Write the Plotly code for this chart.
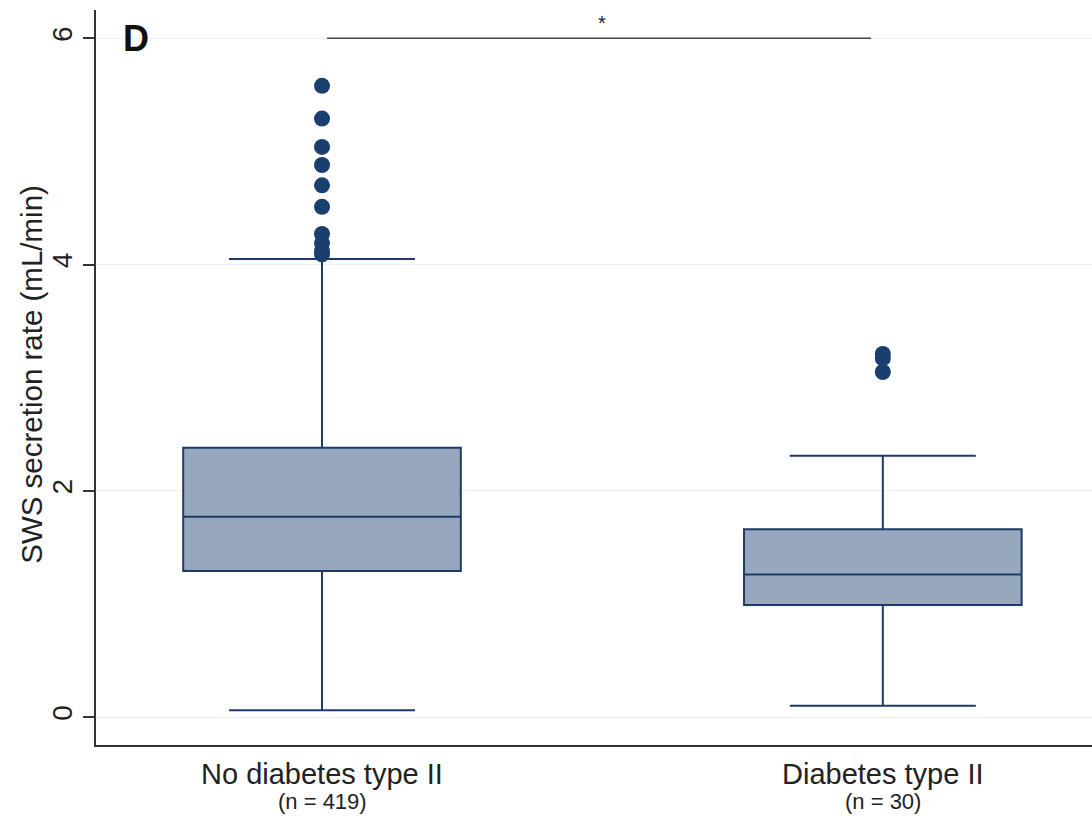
import plotly.graph_objects as go

# Group summaries (mL/min)
groups = ["No diabetes type II", "Diabetes type II"]
group_n = [419, 30]
q1 = [1.29, 0.99]
median = [1.77, 1.26]
q3 = [2.38, 1.66]
lower_whisker = [0.06, 0.10]
upper_whisker = [4.05, 2.31]
outliers = [
    [5.58, 5.29, 5.04, 4.88, 4.70, 4.51, 4.27, 4.19, 4.12, 4.09],
    [3.21, 3.17, 3.05],
]
y_ticks = [0, 2, 4, 6]
sig_y = 6.0
sig_label = "*"

FILL = "#97a8be"
LINE = "#1f3a66"
DOT = "#1a3e6e"
FONT = "Liberation Sans, Arial, sans-serif"

positions = list(range(len(groups)))

fig = go.Figure()
fig.add_trace(go.Box(
    x=positions,
    q1=q1, median=median, q3=q3,
    lowerfence=lower_whisker, upperfence=upper_whisker,
    fillcolor=FILL,
    line=dict(color=LINE, width=2),
    width=0.495,
    whiskerwidth=0.67,
    boxpoints=False,
    showlegend=False,
    hoverinfo="skip",
))

for pos, pts in zip(positions, outliers):
    fig.add_trace(go.Scatter(
        x=[pos] * len(pts), y=pts, mode="markers",
        marker=dict(color=DOT, size=16, line=dict(width=0)),
        showlegend=False, hoverinfo="skip",
    ))

# significance bracket
fig.add_trace(go.Scatter(
    x=[0.009, 0.979], y=[sig_y, sig_y], mode="lines",
    line=dict(color="#444444", width=1.6),
    showlegend=False, hoverinfo="skip",
))
fig.add_annotation(x=0.5, y=sig_y, text=sig_label, showarrow=False,
                   yshift=15, font=dict(family=FONT, size=20, color="#222"))

# panel letter
fig.add_annotation(x=0.0402, y=6, xref="paper", yref="y", text="<b>D</b>",
                   showarrow=False, xanchor="center", yanchor="middle",
                   font=dict(family=FONT, size=36, color="#111"))

# y-axis title
fig.add_annotation(x=-0.0643, y=0.505, xref="paper", yref="paper",
                   text="SWS secretion rate (mL/min)", textangle=-90,
                   showarrow=False, xanchor="center", yanchor="middle",
                   font=dict(family=FONT, size=29.5, color="#222"))

# category labels with group sizes
for pos, g, n in zip(positions, groups, group_n):
    fig.add_annotation(x=pos, y=0, xref="x", yref="paper", text=g,
                       showarrow=False, yanchor="top", yshift=-11,
                       font=dict(family=FONT, size=29, color="#222"))
    fig.add_annotation(x=pos, y=0, xref="x", yref="paper", text=f"(n = {n})",
                       showarrow=False, yanchor="top", yshift=-42,
                       font=dict(family=FONT, size=22, color="#222"))

fig.update_layout(
    width=1092, height=818,
    margin=dict(l=96, r=0, t=10, b=73),
    paper_bgcolor="white", plot_bgcolor="white",
    font=dict(family=FONT, color="#222"),
    xaxis=dict(
        range=[-0.403, 1.373],
        tickmode="array", tickvals=positions, ticktext=["", ""],
        showline=True, linecolor="#333", linewidth=2,
        showgrid=False, zeroline=False, ticks="",
    ),
    yaxis=dict(
        range=[-0.247, 6.25],
        tickmode="array", tickvals=y_ticks,
        tickangle=-90,
        tickfont=dict(size=28, color="#222"),
        ticks="outside", ticklen=11, tickwidth=1.5, tickcolor="#333",
        showline=True, linecolor="#333", linewidth=2,
        showgrid=True, gridcolor="#f0f0f0", gridwidth=1,
        zeroline=False,
    ),
)

fig.write_html("out.html")
